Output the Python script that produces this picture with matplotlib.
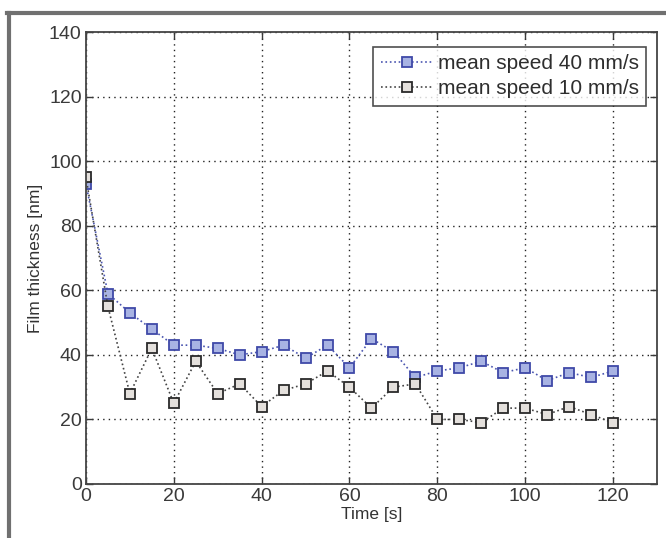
import matplotlib.pyplot as plt
from matplotlib.lines import Line2D

plt.rcParams['font.family'] = ['Liberation Sans', 'DejaVu Sans']

time_s = [0, 5, 10, 15, 20, 25, 30, 35, 40, 45, 50, 55, 60,
          65, 70, 75, 80, 85, 90, 95, 100, 105, 110, 115, 120]
speed40 = [93, 59, 53, 48, 43, 43, 42, 40, 41, 43, 39, 43, 36,
           45, 41, 33, 35, 36, 38, 34.5, 36, 32, 34.5, 33, 35]
speed10 = [95, 55, 28, 42, 25, 38, 28, 31, 24, 29, 31, 35, 30,
           23.5, 30, 31, 20, 20, 19, 23.5, 23.5, 21.5, 24, 21.5, 19]
labels = ['mean speed 40 mm/s', 'mean speed 10 mm/s']

fig = plt.figure(figsize=(6.66, 5.38), dpi=100)
ax = fig.add_axes([0.129, 0.1004, 0.8575, 0.8401])

ax.plot(time_s, speed40, linestyle=':', color='#4a55b0', linewidth=1.2,
        marker='s', markersize=7.5, markerfacecolor='#a8b3e3',
        markeredgecolor='#3f49a8', markeredgewidth=1.3, label=labels[0])
ax.plot(time_s, speed10, linestyle=':', color='#444444', linewidth=1.2,
        marker='s', markersize=7.5, markerfacecolor='#e4e0dc',
        markeredgecolor='#2a2a2a', markeredgewidth=1.3, label=labels[1])

ax.set_xlim(0, 130)
ax.set_ylim(0, 140)
ax.set_xticks(range(0, 121, 20))
ax.set_yticks(range(0, 141, 20))
ax.grid(True, color='#222222', linestyle=(0, (1, 3)), linewidth=1)
ax.tick_params(direction='in', top=True, right=True, length=5,
               labelsize=14, colors='#3a3a3a', width=1, pad=3)
for s in ax.spines.values():
    s.set_color('#444444')
    s.set_linewidth(1.3)

ax.set_xlabel('Time [s]', fontsize=12.5, color='#333333', labelpad=1)
ax.set_ylabel('Film thickness [nm]', fontsize=12.5, color='#333333', labelpad=4)

leg = ax.legend(loc='upper right', fontsize=15, frameon=True, fancybox=False,
                edgecolor='#222222', handlelength=2.5,
                handletextpad=0.25, borderpad=0.35, labelspacing=0.3,
                bbox_to_anchor=(0.9995, 0.99))
leg.get_frame().set_linewidth(1.2)
for t in leg.get_texts():
    t.set_color('#2e2e2e')

# gray frame around the picture
fig.add_artist(Line2D([0.013, 0.013], [0, 0.975], transform=fig.transFigure,
                      color='#707070', linewidth=3))
fig.add_artist(Line2D([0.011, 1], [0.975, 0.975], transform=fig.transFigure,
                      color='#707070', linewidth=3))

fig.savefig('out.png', dpi=100)
